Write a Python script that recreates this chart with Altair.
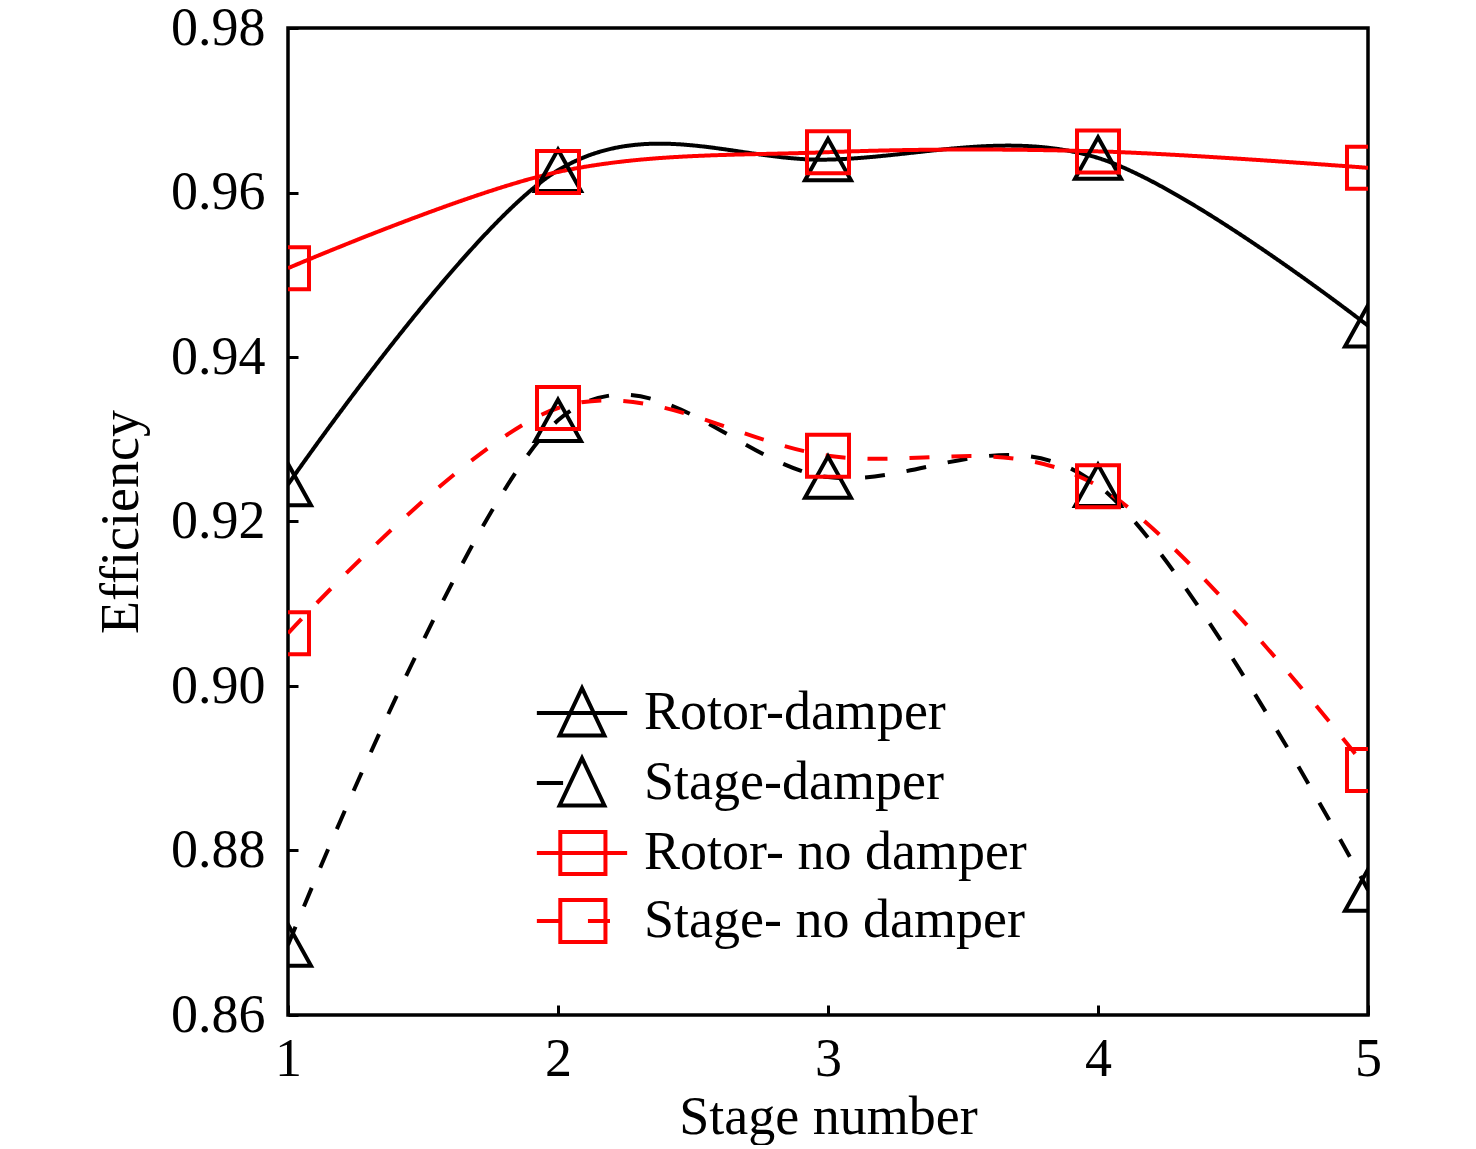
import altair as alt
import pandas as pd

# ---------------- data ----------------
stages = [1, 2, 3, 4, 5]
series_names = ["Rotor-damper", "Stage-damper", "Rotor- no damper", "Stage- no damper"]
rotor_damper = [0.9245, 0.9627, 0.9640, 0.9642, 0.9438]
stage_damper = [0.8685, 0.9323, 0.9254, 0.9244, 0.8752]
rotor_no_damper = [0.9508, 0.9625, 0.9649, 0.9650, 0.9630]
stage_no_damper = [0.9064, 0.9338, 0.9280, 0.9243, 0.8898]
y_ticks = [0.86, 0.88, 0.90, 0.92, 0.94, 0.96, 0.98]

# ---------------- styles ----------------
series_colors = ["#000000", "#000000", "#ff0000", "#ff0000"]
series_dash = [[1, 0], [20, 22], [1, 0], [20, 22]]
TRI = "M0,-0.9L1,0.9L-1,0.9Z"
SQU = "M-1,-1L1,-1L1,1L-1,1Z"
marker_shapes = [TRI, TRI, SQU, SQU]
marker_sizes = [2116, 2116, 1764, 1764]
# legend glyphs (line + marker), unit = 35 px
legend_paths = [
    "M-1.29,0L1.29,0M0,-0.71L0.64,0.64L-0.64,0.64Z",
    "M-1.29,0L-0.54,0M0,-0.71L0.64,0.64L-0.64,0.64Z",
    "M-1.29,0L1.29,0M-0.62,-0.6L0.67,-0.6L0.67,0.6L-0.62,0.6Z",
    "M-1.29,0L-0.62,0M0.17,0L0.8,0M-0.62,-0.6L0.67,-0.6L0.67,0.6L-0.62,0.6Z",
]
FONT = "Liberation Serif"

rows = []
for name, vals in zip(series_names, [rotor_damper, stage_damper, rotor_no_damper, stage_no_damper]):
    for s, v in zip(stages, vals):
        rows.append({"stage": s, "eff": v, "series": name})
df = pd.DataFrame(rows)

base = alt.Chart(df)

x_enc = alt.X(
    "stage:Q",
    scale=alt.Scale(domain=[1, 5], nice=False, zero=False),
    axis=alt.Axis(
        values=stages, format="d", title="Stage number", offset=-10, domain=False,
        tickSize=10, tickWidth=3, tickColor="black", grid=False,
        labelFont=FONT, labelFontSize=54, labelColor="black", labelPadding=17,
        titleFont=FONT, titleFontSize=54, titleFontWeight="normal", titleColor="black",
        titlePadding=4, labelFlush=False,
    ),
)
y_enc = alt.Y(
    "eff:Q",
    scale=alt.Scale(domain=[0.86, 0.98], nice=False, zero=False),
    axis=alt.Axis(
        values=y_ticks, format=".2f", title="Efficiency", offset=-10, domain=False,
        tickSize=10, tickWidth=3, tickColor="black", grid=False,
        labelFont=FONT, labelFontSize=54, labelColor="black", labelPadding=23,
        titleFont=FONT, titleFontSize=54, titleFontWeight="normal", titleColor="black",
        titlePadding=22, labelFlush=False,
    ),
)

# legend-only layer (no data drawn; the legend comes from the explicit scale domains)
leg_kwargs = dict(
    orient="none", legendX=257, legendY=648, title=None, padding=0,
    labelFont=FONT, labelFontSize=54, labelColor="black", labelLimit=800,
    labelOffset=25, symbolSize=4900, symbolStrokeWidth=4, rowPadding=2,
)
leg = base.transform_filter("false").mark_point(
    filled=False, opacity=1, strokeWidth=4
).encode(
    x=x_enc,
    y=y_enc,
    color=alt.Color(
        "series:N",
        scale=alt.Scale(domain=series_names, range=series_colors),
        legend=alt.Legend(**leg_kwargs),
    ),
    shape=alt.Shape(
        "series:N",
        scale=alt.Scale(domain=series_names, range=legend_paths),
        legend=alt.Legend(**leg_kwargs),
    ),
)

line_layers = []
point_layers = []
for i, name in enumerate(series_names):
    sub = base.transform_filter(alt.datum.series == name)
    line_layers.append(
        sub.mark_line(
            interpolate="cardinal", strokeWidth=4, clip=True,
            color=series_colors[i], strokeDash=series_dash[i],
        ).encode(x=x_enc, y=y_enc)
    )
    point_layers.append(
        sub.mark_point(
            shape=marker_shapes[i], size=marker_sizes[i], filled=False,
            strokeWidth=4, opacity=1, clip=True, color=series_colors[i],
        ).encode(x=x_enc, y=y_enc)
    )

chart = (
    alt.layer(leg, *line_layers, *point_layers)
    .properties(
        width=1080,
        height=987,
        autosize=alt.AutoSizeParams(type="none"),
        padding={"left": 280, "top": 20, "right": 100, "bottom": 130},
        background="white",
    )
    .configure_view(stroke="black", strokeWidth=3.5)
)

chart.save("out.html", embed_options={"renderer": "svg", "actions": False})
